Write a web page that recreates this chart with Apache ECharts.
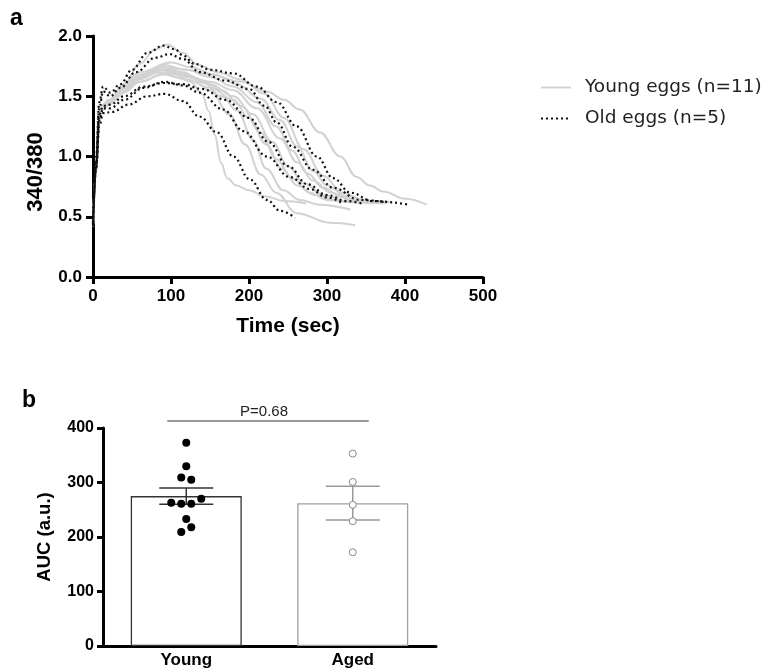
<!DOCTYPE html>
<html>
<head>
<meta charset="utf-8">
<script src="https://cdn.jsdelivr.net/npm/echarts@6/dist/echarts.min.js"></script>
<style>
  html, body { margin: 0; padding: 0; background: #fff; }
  #chart { width: 771px; height: 669px; }
</style>
</head>
<body>
<div id="chart"></div>
<script>
// panel a: ratio traces, [time (sec), 340/380]
const young1 = [[0,0.42],[4,0.9],[8,1.32],[12,1.42],[20,1.46],[40,1.6],[60,1.77],[80,1.89],[95,1.93],[115,1.86],[135,1.76],[160,1.7],[190,1.64],[220,1.52],[245,1.32],[270,1.06],[295,0.84],[320,0.7],[350,0.63],[375,0.61]];
const young2 = [[0,0.45],[4,0.9],[8,1.3],[12,1.4],[20,1.44],[40,1.55],[60,1.64],[85,1.7],[105,1.68],[125,1.62],[140,1.52],[148,1.38],[156,1.18],[164,0.95],[172,0.82],[184,0.76],[200,0.72],[220,0.67],[245,0.63],[273,0.61]];
const young3 = [[0,0.43],[4,0.88],[8,1.3],[12,1.41],[20,1.45],[40,1.57],[60,1.66],[90,1.72],[115,1.69],[140,1.62],[165,1.5],[185,1.38],[205,1.14],[222,0.9],[244,0.72],[265,0.64],[290,0.6],[330,0.56]];
const young4 = [[0,0.44],[4,0.88],[8,1.3],[12,1.42],[20,1.46],[40,1.56],[60,1.66],[90,1.72],[120,1.68],[150,1.55],[175,1.35],[195,1.1],[215,0.85],[235,0.7],[261,0.53],[304,0.45],[336,0.43]];
const young5 = [[0,0.45],[4,0.9],[8,1.3],[12,1.4],[20,1.45],[40,1.55],[60,1.65],[90,1.74],[120,1.72],[150,1.68],[190,1.62],[223,1.54],[245,1.47],[265,1.39],[291,1.2],[317,1.0],[338,0.83],[355,0.76],[372,0.71],[400,0.65],[428,0.6]];
const young6 = [[0,0.43],[4,0.9],[8,1.31],[12,1.42],[20,1.46],[40,1.58],[60,1.68],[90,1.76],[120,1.72],[150,1.66],[180,1.58],[210,1.45],[235,1.25],[255,1.05],[275,0.86],[295,0.74],[320,0.66],[350,0.62],[372,0.61]];
const young7 = [[0,0.44],[4,0.88],[8,1.28],[12,1.4],[20,1.44],[40,1.55],[60,1.65],[85,1.72],[120,1.66],[150,1.6],[180,1.5],[205,1.35],[230,1.12],[250,0.92],[270,0.78],[295,0.68],[330,0.62],[360,0.61]];
const young8 = [[0,0.42],[4,0.86],[8,1.28],[12,1.39],[20,1.43],[40,1.53],[60,1.62],[95,1.7],[120,1.67],[150,1.62],[180,1.55],[210,1.4],[240,1.15],[262,0.95],[282,0.8],[305,0.7],[335,0.63],[365,0.61]];
const young9 = [[0,0.45],[4,0.9],[8,1.3],[12,1.41],[20,1.44],[40,1.54],[60,1.62],[90,1.68],[120,1.64],[150,1.57],[180,1.47],[200,1.32],[222,1.1],[242,0.9],[262,0.76],[285,0.68],[315,0.63],[345,0.61]];
const young10 = [[0,0.43],[4,0.9],[8,1.32],[12,1.43],[20,1.47],[40,1.6],[60,1.7],[100,1.78],[125,1.74],[155,1.68],[185,1.6],[215,1.48],[240,1.3],[262,1.08],[282,0.88],[300,0.76],[325,0.67],[355,0.63],[380,0.62]];
const young11 = [[0,0.44],[4,0.88],[8,1.3],[12,1.41],[20,1.45],[40,1.57],[60,1.67],[88,1.74],[115,1.7],[140,1.63],[165,1.55],[190,1.42],[215,1.2],[235,0.98],[255,0.82],[278,0.7],[300,0.64],[325,0.62]];

const old1 = [[0,0.45],[4,1.0],[8,1.45],[13,1.58],[22,1.53],[35,1.6],[50,1.72],[70,1.86],[90,1.92],[105,1.89],[115,1.84],[130,1.77],[150,1.72],[180,1.69],[210,1.58],[236,1.45],[261,1.25],[287,1.0],[308,0.82],[330,0.7],[359,0.63],[406,0.6]];
const old2 = [[0,0.43],[4,0.95],[8,1.4],[13,1.54],[22,1.5],[35,1.57],[55,1.7],[80,1.82],[98,1.85],[115,1.81],[137,1.7],[170,1.63],[200,1.56],[220,1.42],[236,1.28],[256,1.08],[282,0.89],[308,0.74],[342,0.64],[377,0.62]];
const old3 = [[0,0.42],[4,0.9],[8,1.3],[13,1.4],[22,1.4],[40,1.47],[65,1.57],[92,1.62],[115,1.59],[137,1.53],[167,1.39],[193,1.21],[223,1.0],[252,0.83],[278,0.73],[300,0.66],[320,0.61]];
const old4 = [[0,0.45],[4,0.9],[8,1.25],[13,1.36],[25,1.37],[45,1.43],[70,1.5],[92,1.52],[115,1.46],[137,1.33],[159,1.2],[180,1.0],[201,0.81],[223,0.64],[240,0.55],[259,0.49]];
const old5 = [[0,0.44],[4,0.92],[8,1.35],[13,1.42],[22,1.43],[40,1.5],[65,1.58],[90,1.61],[115,1.6],[140,1.56],[170,1.47],[200,1.32],[225,1.12],[250,0.92],[275,0.77],[300,0.68],[325,0.63],[345,0.61]];

const youngCurves = [young1, young2, young3, young4, young5, young6, young7, young8, young9, young10, young11];
const oldCurves = [old1, old2, old3, old4, old5];

// panel b: AUC
const groups = ['Young', 'Aged'];
const youngAuc = [373, 330, 309, 305, 270, 263, 261, 261, 233, 218, 209];
const agedAuc = [353, 301, 259, 229, 172];
const barMeans = [275, 262];
const barSem = [15, 31];
const pLabel = 'P=0.68';
const pLineLevel = 413;

const youngJitter = [0, 0, -5, 5, 15, -15, -5, 5, 0, 5, -5];

const FONT = 'Arial, "Liberation Sans", sans-serif';
const YOUNG_GRAY = '#d2d2d2';
const chart = echarts.init(document.getElementById('chart'));

const series = [];
youngCurves.forEach(function (c) {
  series.push({
    name: 'Young eggs (n=11)',
    type: 'line',
    xAxisIndex: 0,
    yAxisIndex: 0,
    data: c,
    smooth: 0.4,
    smoothMonotone: 'x',
    symbol: 'none',
    itemStyle: { color: YOUNG_GRAY },
    lineStyle: { color: YOUNG_GRAY, width: 2 },
    z: 2
  });
});
oldCurves.forEach(function (c) {
  series.push({
    name: 'Old eggs (n=5)',
    type: 'line',
    xAxisIndex: 0,
    yAxisIndex: 0,
    data: c,
    smooth: 0.4,
    smoothMonotone: 'x',
    symbol: 'none',
    itemStyle: { color: '#111' },
    lineStyle: { color: '#111', width: 2.2, type: [2, 3] },
    z: 3
  });
});

// bars
series.push({
  type: 'bar',
  xAxisIndex: 1,
  yAxisIndex: 1,
  barWidth: 111,
  data: [
    { value: barMeans[0], itemStyle: { color: '#fff', borderColor: '#333', borderWidth: 1.3 } },
    { value: barMeans[1], itemStyle: { color: '#fff', borderColor: '#a0a0a0', borderWidth: 1.3 } }
  ],
  z: 1
});

// error bars (mean +/- SEM)
const errColors = ['#333', '#999'];
series.push({
  type: 'custom',
  xAxisIndex: 1,
  yAxisIndex: 1,
  data: barMeans.map(function (m, i) { return [i, m - barSem[i], m + barSem[i]]; }),
  encode: { x: 0, y: [1, 2] },
  renderItem: function (params, api) {
    const i = api.value(0);
    const lo = api.coord([i, api.value(1)]);
    const hi = api.coord([i, api.value(2)]);
    const half = 27;
    const st = { stroke: errColors[params.dataIndex], lineWidth: 1.5 };
    return {
      type: 'group',
      children: [
        { type: 'line', shape: { x1: lo[0], y1: lo[1], x2: hi[0], y2: hi[1] }, style: st },
        { type: 'line', shape: { x1: lo[0] - half, y1: lo[1], x2: lo[0] + half, y2: lo[1] }, style: st },
        { type: 'line', shape: { x1: hi[0] - half, y1: hi[1], x2: hi[0] + half, y2: hi[1] }, style: st }
      ]
    };
  },
  z: 4
});

// individual points
series.push({
  type: 'scatter',
  xAxisIndex: 1,
  yAxisIndex: 1,
  symbolSize: 8,
  itemStyle: { color: '#000', opacity: 1 },
  data: youngAuc.map(function (v, k) { return { value: [0, v], symbolOffset: [youngJitter[k], 0] }; }),
  z: 5
});
series.push({
  type: 'scatter',
  xAxisIndex: 1,
  yAxisIndex: 1,
  symbolSize: 7,
  itemStyle: { color: '#fff', borderColor: '#888', borderWidth: 1, opacity: 1 },
  data: agedAuc.map(function (v) { return [1, v]; }),
  z: 5
});

// p value bracket
series.push({
  type: 'custom',
  xAxisIndex: 1,
  yAxisIndex: 1,
  data: [[0, pLineLevel]],
  encode: { x: 0, y: 1 },
  renderItem: function (params, api) {
    const a = api.coord([0, api.value(1)]);
    const b = api.coord([1, api.value(1)]);
    const x1 = a[0] - 19, x2 = b[0] + 16;
    return {
      type: 'group',
      children: [
        { type: 'line', shape: { x1: x1, y1: a[1], x2: x2, y2: a[1] }, style: { stroke: '#777', lineWidth: 1.5 } },
        { type: 'text', style: { text: pLabel, x: (x1 + x2) / 2 - 4, y: a[1] - 2, align: 'center', verticalAlign: 'bottom', fill: '#222', font: '15px ' + FONT } }
      ]
    };
  },
  z: 6
});

const option = {
  animation: false,
  textStyle: { fontFamily: FONT },
  legend: {
    data: ['Young eggs (n=11)', 'Old eggs (n=5)'],
    orient: 'vertical',
    left: 540,
    top: 78,
    padding: 0,
    itemWidth: 30,
    itemHeight: 14,
    itemGap: 12,
    itemStyle: { opacity: 0 },
    textStyle: { fontSize: 18.5, color: '#222', fontFamily: '"DejaVu Sans", sans-serif', padding: [0, 0, 0, 9] }
  },
  graphic: [
    { type: 'text', left: 10, top: 7, style: { text: 'a', font: 'bold 23px ' + FONT, fill: '#000' } },
    { type: 'text', left: 22, top: 389, style: { text: 'b', font: 'bold 23px ' + FONT, fill: '#000' } },
    { type: 'text', x: 36, y: 172, rotation: Math.PI / 2, style: { text: '340/380', font: 'bold 22px ' + FONT, fill: '#000', align: 'center', verticalAlign: 'middle' } }
  ],
  grid: [
    { left: 93, top: 36, width: 390, height: 241 },
    { left: 103, top: 428, width: 333, height: 218 }
  ],
  xAxis: [
    {
      gridIndex: 0,
      type: 'value',
      min: 0,
      max: 500,
      interval: 100,
      name: 'Time (sec)',
      nameLocation: 'middle',
      nameGap: 39,
      nameTextStyle: { fontSize: 21, fontWeight: 'bold', color: '#000' },
      splitLine: { show: false },
      axisLine: { lineStyle: { color: '#000', width: 3 } },
      axisTick: { length: 7, lineStyle: { color: '#000', width: 3 } },
      axisLabel: { margin: 11, fontSize: 17, fontWeight: 'bold', color: '#000' }
    },
    {
      gridIndex: 1,
      type: 'category',
      data: groups,
      axisLine: { lineStyle: { color: '#000', width: 3 } },
      axisTick: { show: false },
      axisLabel: { margin: 6, fontSize: 17, fontWeight: 'bold', color: '#000' }
    }
  ],
  yAxis: [
    {
      gridIndex: 0,
      type: 'value',
      min: 0,
      max: 2,
      interval: 0.5,
      splitLine: { show: false },
      axisLine: { show: true, lineStyle: { color: '#000', width: 3 } },
      axisTick: { show: true, length: 7, lineStyle: { color: '#000', width: 3 } },
      axisLabel: { margin: 11, fontSize: 17, fontWeight: 'bold', color: '#000', formatter: function (v) { return v.toFixed(1); } }
    },
    {
      gridIndex: 1,
      type: 'value',
      min: 0,
      max: 400,
      interval: 100,
      name: 'AUC (a.u.)',
      nameLocation: 'middle',
      nameGap: 49,
      nameTextStyle: { fontSize: 18.5, fontWeight: 'bold', color: '#000' },
      splitLine: { show: false },
      axisLine: { show: true, lineStyle: { color: '#000', width: 3 } },
      axisTick: { show: true, length: 6, lineStyle: { color: '#000', width: 3 } },
      axisLabel: { margin: 9, fontSize: 16, fontWeight: 'bold', color: '#000' }
    }
  ],
  series: series
};

chart.setOption(option);
</script>
</body>
</html>
